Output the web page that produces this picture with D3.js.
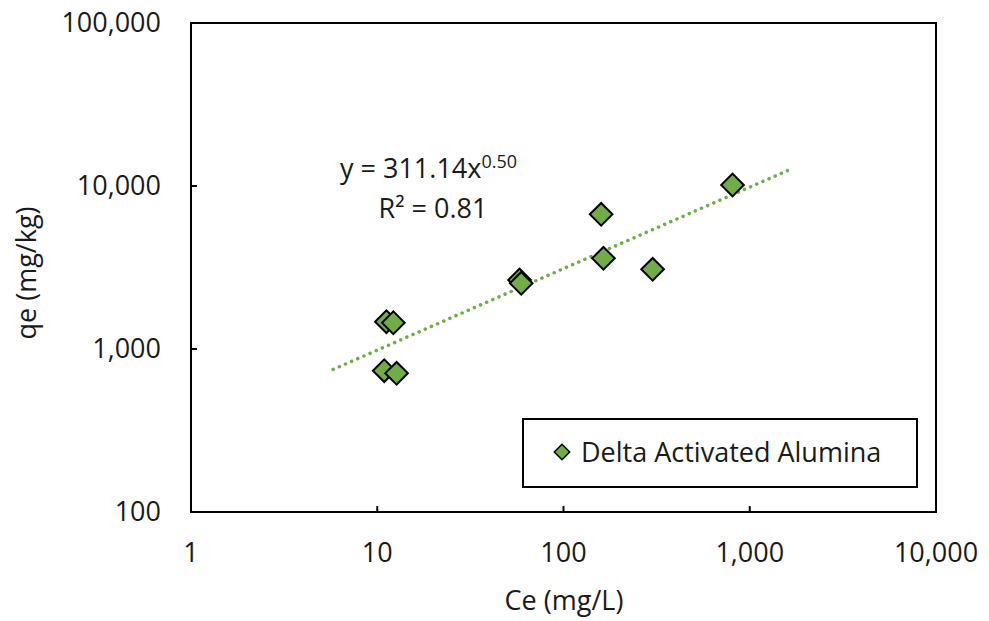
<!DOCTYPE html>
<html>
<head>
<meta charset="utf-8">
<script src="https://cdn.jsdelivr.net/npm/d3@7"></script>
<style>
  body { margin: 0; background: #fff; }
  text { font-family: "Open Sans", "Noto Sans", sans-serif; fill: #1a1a1a; }
</style>
</head>
<body>
<svg id="svg1" width="989" height="621"></svg>
<script>
// measured data (Ce mg/L, qe mg/kg)
var ceValues = [11.2, 12.2, 10.9, 12.7, 58.1, 59.3, 163.9, 159.3, 301, 808];
var qeValues = [1471, 1449, 736, 709, 2650, 2530, 3600, 6700, 3083, 10140];
var xTicks = [1, 10, 100, 1000, 10000];
var yTicks = [100, 1000, 10000, 100000];
var trendCoef = 311.14;
var trendExp = 0.5;
var trendRange = [5.8, 1710];
var seriesName = 'Delta Activated Alumina';

var green = '#70AD47';
var fontSize = 27;
var svg = d3.select('#svg1');

var plotLeft = 191, plotRight = 936, plotTop = 23, plotBottom = 512;
var x = d3.scaleLog().domain([1, 10000]).range([plotLeft, plotRight]);
var y = d3.scaleLog().domain([100, 100000]).range([plotBottom, plotTop]);
var fmt = d3.format(',');

// frame
svg.append('rect')
    .attr('x', plotLeft).attr('y', plotTop)
    .attr('width', plotRight - plotLeft).attr('height', plotBottom - plotTop)
    .attr('fill', 'none').attr('stroke', '#000').attr('stroke-width', 2);

// x axis ticks and labels
svg.append('g').selectAll('line').data(xTicks).enter().append('line')
    .attr('x1', function (d) { return x(d); })
    .attr('x2', function (d) { return x(d); })
    .attr('y1', plotBottom).attr('y2', plotBottom - 6)
    .attr('stroke', '#000').attr('stroke-width', 2);
svg.append('g').selectAll('text').data(xTicks).enter().append('text')
    .attr('x', function (d) { return x(d); })
    .attr('y', 562)
    .attr('text-anchor', 'middle')
    .attr('font-size', fontSize)
    .text(function (d) { return fmt(d); });

// y axis ticks and labels
svg.append('g').selectAll('line').data(yTicks).enter().append('line')
    .attr('x1', plotLeft).attr('x2', plotLeft + 6)
    .attr('y1', function (d) { return y(d); })
    .attr('y2', function (d) { return y(d); })
    .attr('stroke', '#000').attr('stroke-width', 2);
svg.append('g').selectAll('text').data(yTicks).enter().append('text')
    .attr('x', 161)
    .attr('y', function (d) { return y(d) + 9; })
    .attr('text-anchor', 'end')
    .attr('font-size', fontSize)
    .text(function (d) { return fmt(d); });

// axis titles
svg.append('text').attr('x', 564).attr('y', 610)
    .attr('text-anchor', 'middle').attr('font-size', fontSize)
    .text('Ce (mg/L)');
svg.append('text')
    .attr('transform', 'translate(36,273) rotate(-90)')
    .attr('text-anchor', 'middle').attr('font-size', fontSize)
    .text('qe (mg/kg)');

// trendline (power)
var trendPts = d3.range(0, 101).map(function (i) {
    var lx = Math.log10(trendRange[0]) + (Math.log10(trendRange[1]) - Math.log10(trendRange[0])) * i / 100;
    var cx = Math.pow(10, lx);
    return [cx, trendCoef * Math.pow(cx, trendExp)];
});
svg.append('path')
    .attr('d', d3.line().x(function (d) { return x(d[0]); }).y(function (d) { return y(d[1]); })(trendPts))
    .attr('fill', 'none').attr('stroke', green)
    .attr('stroke-width', 3.5).attr('stroke-linecap', 'round')
    .attr('stroke-dasharray', '0.1 6.6');

// diamonds
var diamond = d3.symbol().type(d3.symbolSquare).size(256);
svg.append('g').selectAll('path').data(ceValues).enter().append('path')
    .attr('d', diamond)
    .attr('transform', function (d, i) {
        return 'translate(' + x(d) + ',' + y(qeValues[i]) + ') rotate(45)';
    })
    .attr('fill', green).attr('stroke', '#000').attr('stroke-width', 2);

// equation label
var eq = svg.append('text').attr('x', 340).attr('y', 178).attr('font-size', fontSize);
eq.append('tspan').text('y = 311.14x');
eq.append('tspan').attr('dy', -10).attr('font-size', 18).text('0.50');
svg.append('text').attr('x', 433).attr('y', 218)
    .attr('text-anchor', 'middle').attr('font-size', fontSize)
    .text('R\u00b2 = 0.81');

// legend
svg.append('rect')
    .attr('x', 523).attr('y', 419).attr('width', 394).attr('height', 68)
    .attr('fill', '#fff').attr('stroke', '#000').attr('stroke-width', 2);
svg.append('path')
    .attr('d', d3.symbol().type(d3.symbolSquare).size(120))
    .attr('transform', 'translate(562,452) rotate(45)')
    .attr('fill', green).attr('stroke', '#000').attr('stroke-width', 1.5);
svg.append('text').attr('x', 581).attr('y', 462).attr('font-size', fontSize)
    .text(seriesName);
</script>
</body>
</html>
